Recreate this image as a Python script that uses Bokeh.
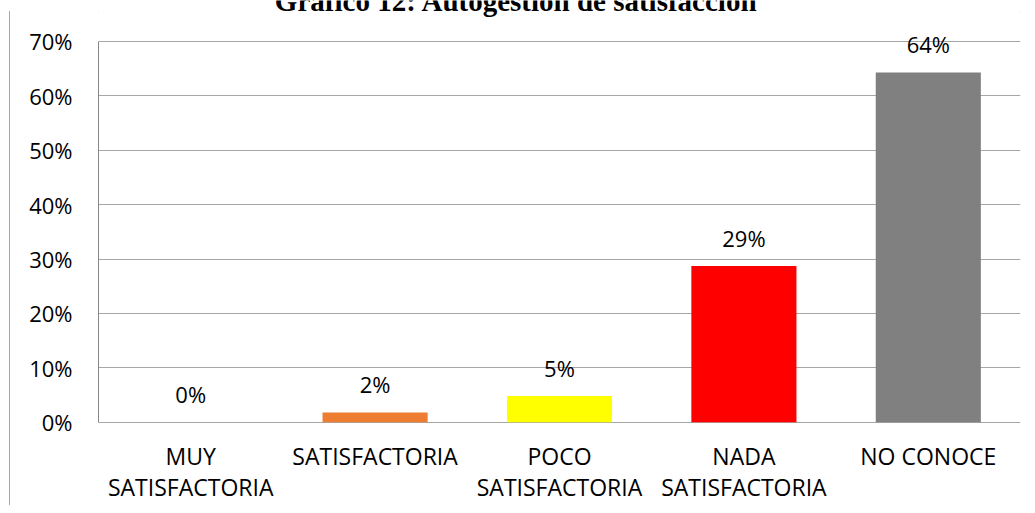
from bokeh.plotting import figure
from bokeh.models import (ColumnDataSource, Range1d, FixedTicker, NumeralTickFormatter,
                          LabelSet, Label, InlineStyleSheet)
from bokeh.core.properties import value
from bokeh.embed import file_html
from bokeh.resources import INLINE

title_text = "Gráfico 12: Autogestión de satisfacción"
categories = ["MUY SATISFACTORIA", "SATISFACTORIA", "POCO SATISFACTORIA", "NADA SATISFACTORIA", "NO CONOCE"]
axis_labels = ["MUY\nSATISFACTORIA", "SATISFACTORIA", "POCO\nSATISFACTORIA", "NADA\nSATISFACTORIA", "NO CONOCE"]
values = [0.0, 0.018, 0.048, 0.287, 0.643]
colors = ["#5B9BD5", "#ED7D31", "#FFFF00", "#FF0000", "#808080"]
y_ticks = [0.0, 0.1, 0.2, 0.3, 0.4, 0.5, 0.6, 0.7]

labels = [f"{round(v * 100)}%" for v in values]
line1 = [s.split("\n")[0] for s in axis_labels]
line2 = [s.split("\n")[1] if "\n" in s else "" for s in axis_labels]

# layout (pixels): canvas size, where 0% and 70% fall
W, H = 1027, 505
Y0_PX, Y70_PX = 421.7, 40.9
px_per_unit = (Y0_PX - Y70_PX) / 0.7
y_start = -(H - Y0_PX) / px_per_unit
y_end = 0.7 + Y70_PX / px_per_unit

src = ColumnDataSource(dict(cat=categories, val=values, color=colors, lab=labels,
                            l1=line1, l2=line2, zero=[0.0] * len(categories)))

p = figure(x_range=categories, y_range=Range1d(y_start, y_end), width=W, height=H,
           output_backend="svg", toolbar_location=None,
           min_border_left=98, min_border_right=7, min_border_top=0, min_border_bottom=0)
p.outline_line_color = None
p.background_fill_color = "white"
p.border_fill_color = "white"

p.vbar(x="cat", top="val", width=0.57, color="color", source=src, line_color=None)

p.add_layout(LabelSet(x="cat", y="val", text="lab", source=src, y_offset=19,
                      text_align="center", text_baseline="alphabetic",
                      text_font=value("Open Sans"), text_font_size="22px", text_color="#000000"))

# category labels (two lines)
for field, off in (("l1", -43), ("l2", -74)):
    p.add_layout(LabelSet(x="cat", y="zero", text=field, source=src, y_offset=off,
                          text_align="center", text_baseline="alphabetic",
                          text_font=value("Open Sans"), text_font_size="23px",
                          text_color="#000000"))

# y axis
p.yaxis.ticker = FixedTicker(ticks=y_ticks)
p.yaxis.bounds = (0, 0.7)
p.yaxis.formatter = NumeralTickFormatter(format="0%")
p.yaxis.axis_line_color = "#868686"
p.yaxis.major_tick_line_color = None
p.yaxis.minor_tick_line_color = None
p.yaxis.major_tick_out = 0
p.yaxis.minor_tick_out = 0
p.yaxis.major_label_standoff = 26
p.yaxis.major_label_text_font = "Open Sans"
p.yaxis.major_label_text_font_size = "22px"
p.yaxis.major_label_text_color = "#000000"

p.xaxis.visible = False

p.xgrid.grid_line_color = None
p.ygrid.grid_line_color = "#a6a6a6"
p.ygrid.grid_line_width = 1

p.add_layout(Label(x=418, y=H, x_units="screen", y_units="screen", text=title_text,
                   text_align="center", text_baseline="alphabetic",
                   text_font="Liberation Serif", text_font_style="bold", text_font_size="29px",
                   text_color="#000000"))

# outer chart border (only its top and left edges are visible in the reference)
p.stylesheets = [InlineStyleSheet(css=(
    ":host::before { content: ''; position: absolute; left: 9px; top: 11px; right: 0; height: 0;"
    " border-top: 1px solid #a6a6a6; pointer-events: none; }"
    ":host::after { content: ''; position: absolute; left: 9px; top: 11px; bottom: 0; width: 0;"
    " border-left: 1px solid #a6a6a6; pointer-events: none; }"
))]

open("out.html", "w").write(file_html(p, INLINE))
